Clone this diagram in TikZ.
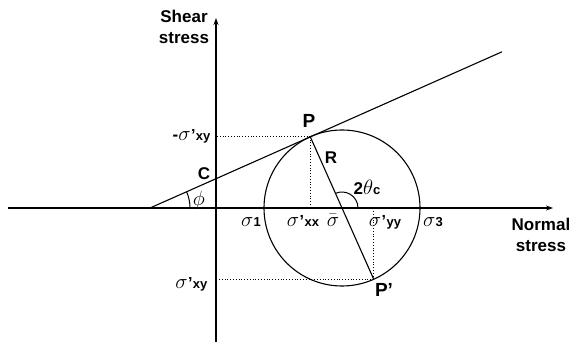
\documentclass[tikz,border=0pt]{standalone}
\usepackage{fontspec}
\setmainfont{Liberation Sans}
\usetikzlibrary{arrows.meta}
\newcommand{\sgm}{{\fontsize{21}{21}\selectfont$\sigma$}}
\newcommand{\sgmbar}{{\fontsize{21}{21}\selectfont$\bar\sigma$}}
\newcommand{\prm}{{\fontsize{16}{16}\selectfont\bfseries\kern0.5pt’\kern0.5pt}}
\newcommand{\sbs}[1]{{\fontsize{13}{13}\selectfont\bfseries #1}}
\begin{document}
\begin{tikzpicture}[x=1pt,y=1pt, line width=1.1pt,
  lbl/.style={font=\fontsize{17}{21}\selectfont\bfseries, inner sep=0pt},
  sl/.style={inner sep=0pt},
  axisarrow/.style={-{Stealth[length=7pt,width=5pt]}},
  dotln/.style={dotted, line width=0.8pt}]
\useasboundingbox (0,0) rectangle (571,-342);
\coordinate (O) at (216,-208);
\coordinate (Ybot) at (216,-342);
\coordinate (Ytop) at (216,-18);
\coordinate (Xl) at (8,-208);
\coordinate (Xr) at (553,-208);
\coordinate (A) at (150,-208);
\coordinate (E) at (502,-51.8);
\coordinate (M) at (342,-208);
\coordinate (P) at ([shift={(114:78pt)}]M);
\coordinate (Pp) at ([shift={(294:78pt)}]M);
% axes
\draw[axisarrow] (Ybot) -- (Ytop);
\draw[axisarrow] (Xl) -- (Xr);
% failure line
\draw (A) -- (E);
% circle
\draw (M) circle[radius=78pt];
% diameter
\draw (P) -- (Pp);
% dotted projections
\draw[dotln] (P) -- (P -| O);
\draw[dotln] (P) -- (P |- O);
\draw[dotln] (Pp) -- (Pp -| O);
\draw[dotln] (Pp) -- (Pp |- O);
% angle arcs
\draw[line width=1pt] ([shift={(0:16pt)}]M) arc[start angle=0, end angle=114, radius=16pt];
\draw[line width=1pt] ([shift={(0:40pt)}]A) arc[start angle=0, end angle=24, radius=40pt];
% labels
\node[lbl, align=center] (shear) at (184,-27) {Shear\\stress};
\node[lbl, align=center] (normal) at (541,-235) {Normal\\stress};
\node[lbl, font=\fontsize{19}{21}\selectfont\bfseries] (Plbl) at (309,-121) {P};
\node[lbl] (Rlbl) at (331,-158) {R};
\node[lbl, font=\fontsize{19}{21}\selectfont\bfseries] (Pplbl) at (384,-290) {P’};
\node[lbl] (clbl) at (204,-174) {C};
\node[sl] (philbl) at (199,-200) {\fontsize{21}{21}\selectfont$\phi$};
\node[sl, anchor=base west] (thlbl) at (353,-195) {\fontsize{17}{17}\selectfont\bfseries 2\fontsize{21}{21}\selectfont$\theta$\sbs{c}};
\node[sl, anchor=base east] (sxyneg) at (211,-141) {\fontsize{17}{17}\selectfont\bfseries -\sgm\prm\sbs{xy}};
\node[sl, anchor=base east] (sxy) at (208,-288) {\sgm\prm\sbs{xy}};
\node[sl, anchor=base] (s1) at (251,-226) {\sgm\sbs{1}};
\node[sl, anchor=base] (sxx) at (303,-226) {\sgm\prm\sbs{xx}};
\node[sl, anchor=base] (sbar) at (333,-226) {\sgmbar};
\node[sl, anchor=base] (syy) at (385,-226) {\sgm\prm\sbs{yy}};
\node[sl, anchor=base] (s3) at (433,-226) {\sgm\sbs{3}};
\end{tikzpicture}
\end{document}
